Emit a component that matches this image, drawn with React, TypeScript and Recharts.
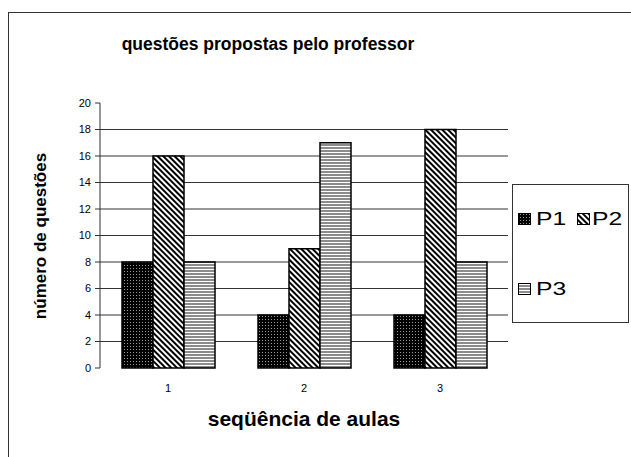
import React from 'react';
import { BarChart, Bar, XAxis, YAxis, CartesianGrid } from 'recharts';

// Question counts per lesson for each professor
const categories = ['1', '2', '3'];
const p1Values = [8, 4, 4];
const p2Values = [16, 9, 18];
const p3Values = [8, 17, 8];
const seriesNames = ['P1', 'P2', 'P3'];
const yTicks = [0, 2, 4, 6, 8, 10, 12, 14, 16, 18, 20];
const gridValues = [2, 4, 6, 8, 10, 12, 14, 16, 18];
const edgeTicks = [1, 2, 3];

const title = 'questões propostas pelo professor';
const xTitle = 'seqüência de aulas';
const yTitle = 'número de questões';

const data = categories.map((c, i) => ({
  aula: c,
  P1: p1Values[i],
  P2: p2Values[i],
  P3: p3Values[i],
}));

const fills = ['url(#patDots)', 'url(#patDiag)', 'url(#patHoriz)'];
const FONT = '"Liberation Sans", Arial, sans-serif';

function Patterns() {
  return (
    <svg width={0} height={0} style={{ position: 'absolute' }}>
      <defs>
        <pattern id="patDots" width={3} height={3} patternUnits="userSpaceOnUse">
          <rect width={3} height={3} fill="#000" />
          <rect x={1} y={1} width={1} height={1} fill="#9a9a9a" />
        </pattern>
        <pattern id="patDiag" width={4} height={4} patternUnits="userSpaceOnUse" patternTransform="rotate(-45)">
          <rect width={4} height={4} fill="#fff" />
          <rect width={2} height={4} fill="#000" />
        </pattern>
        <pattern id="patHoriz" width={3} height={3} patternUnits="userSpaceOnUse">
          <rect width={3} height={3} fill="#fff" />
          <rect width={3} height={2} fill="#8c8c8c" />
        </pattern>
      </defs>
    </svg>
  );
}

// legend entries: swatch position and label baseline
const legendLayout = [
  { sx: 518, sy: 213, tx: 536, ty: 225 },
  { sx: 577, sy: 213, tx: 592, ty: 225 },
  { sx: 518, sy: 283, tx: 536, ty: 295 },
];

function LegendBox() {
  return (
    <svg
      width={631}
      height={457}
      style={{ position: 'absolute', left: 0, top: 0, pointerEvents: 'none' }}
    >
      <rect x={512.5} y={184.5} width={116} height={138} fill="#fff" stroke="#333" strokeWidth={1} />
      {seriesNames.map((name, i) => {
        const l = legendLayout[i];
        return (
          <g key={name}>
            <rect x={l.sx + 0.5} y={l.sy + 0.5} width={12} height={11} fill={fills[i]} stroke="#000" strokeWidth={1} />
            <text
              transform={`translate(${l.tx},${l.ty}) scale(1.3,1)`}
              fontFamily={FONT}
              fontSize={19}
              fill="#000"
            >
              {name}
            </text>
          </g>
        );
      })}
    </svg>
  );
}

export default function App() {
  return (
    <div
      style={{
        position: 'fixed',
        left: 0,
        top: 0,
        width: 631,
        height: 457,
        overflow: 'hidden',
        background: '#fff',
      }}
    >
      <Patterns />
      {/* outer frame */}
      <div
        style={{
          position: 'absolute',
          left: 8,
          top: 12,
          width: 700,
          height: 500,
          borderLeft: '1px solid #333',
          borderTop: '1px solid #333',
        }}
      />
      <div style={{ position: 'absolute', left: 0, top: 0 }}>
        <BarChart
          width={631}
          height={457}
          data={data}
          margin={{ top: 103, right: 123, bottom: 59, left: 40 }}
          barCategoryGap={22}
          barGap={0}
        >
          <CartesianGrid vertical={false} horizontalValues={gridValues} stroke="#333" strokeWidth={1} />
          <XAxis
            xAxisId="edges"
            type="number"
            domain={[0, 3]}
            ticks={edgeTicks}
            height={0}
            tick={false}
            tickSize={4}
            tickLine={{ stroke: '#333' }}
            axisLine={{ stroke: '#333' }}
            allowDataOverflow
          />
          <XAxis
            dataKey="aula"
            height={30}
            axisLine={false}
            tickLine={false}
            tickSize={0}
            tickMargin={16}
            tick={{ fontFamily: FONT, fontSize: 11, fill: '#000' }}
          />
          <YAxis
            width={60}
            domain={[0, 20]}
            ticks={yTicks}
            interval={0}
            tickSize={5}
            tickMargin={4}
            axisLine={{ stroke: '#333' }}
            tickLine={{ stroke: '#333' }}
            tick={{ fontFamily: FONT, fontSize: 11, fill: '#000' }}
          />
          {seriesNames.map((name, i) => (
            <Bar
              key={name}
              dataKey={name}
              fill={fills[i]}
              stroke="#000"
              strokeWidth={1.5}
              isAnimationActive={false}
            />
          ))}
        </BarChart>
      </div>
      <svg
        width={631}
        height={457}
        style={{ position: 'absolute', left: 0, top: 0, pointerEvents: 'none' }}
      >
        <text x={268} y={50} textAnchor="middle" fontFamily={FONT} fontSize={17.5} fontWeight="bold" fill="#000">
          {title}
        </text>
        <text x={304} y={426} textAnchor="middle" fontFamily={FONT} fontSize={21} fontWeight="bold" fill="#000">
          {xTitle}
        </text>
        <text
          x={0}
          y={0}
          transform="translate(46,236) rotate(-90)"
          textAnchor="middle"
          fontFamily={FONT}
          fontSize={17}
          fontWeight="bold"
          fill="#000"
        >
          {yTitle}
        </text>
      </svg>
      <LegendBox />
    </div>
  );
}
